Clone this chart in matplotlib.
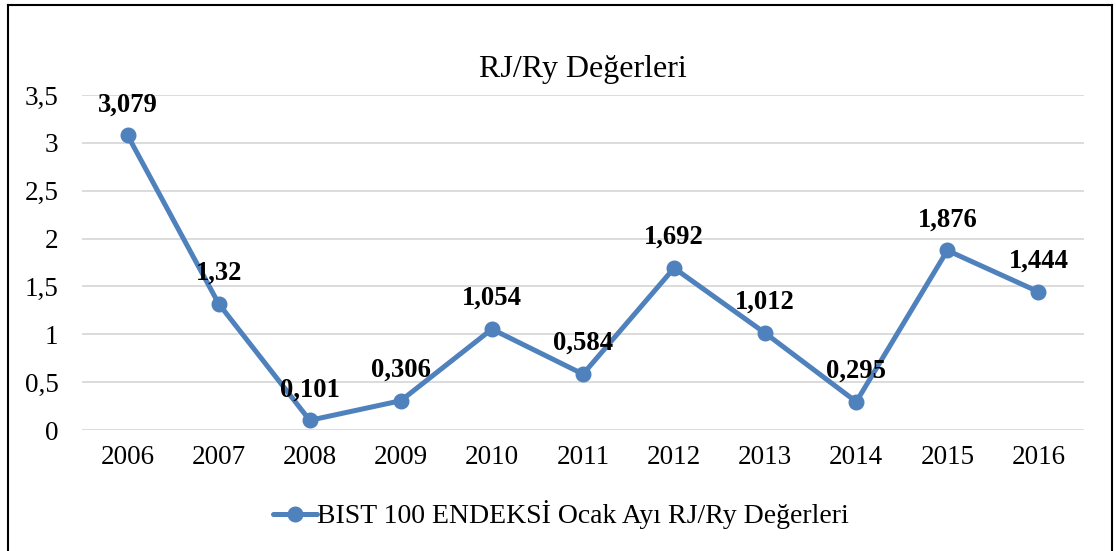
import matplotlib
matplotlib.use("Agg")
import matplotlib.pyplot as plt
from matplotlib.lines import Line2D

years = ["2006", "2007", "2008", "2009", "2010", "2011", "2012", "2013", "2014", "2015", "2016"]
values = [3.079, 1.32, 0.101, 0.306, 1.054, 0.584, 1.692, 1.012, 0.295, 1.876, 1.444]
labels = ["3,079", "1,32", "0,101", "0,306", "1,054", "0,584", "1,692", "1,012", "0,295", "1,876", "1,444"]
yticks = [0, 0.5, 1, 1.5, 2, 2.5, 3, 3.5]
ytick_labels = ["0", "0,5", "1", "1,5", "2", "2,5", "3", "3,5"]
title = "RJ/Ry Değerleri"
series_name = "BIST 100 ENDEKSİ Ocak Ayı RJ/Ry Değerleri"

plt.rcParams['font.family'] = ['Liberation Serif', 'DejaVu Serif']
W, H = 1116, 551
fig = plt.figure(figsize=(W / 100, H / 100), dpi=100)
ax = fig.add_axes([82 / W, 1 - 430 / H, (1084 - 82) / W, (430 - 95) / H])

color = "#4F81BD"
x = list(range(len(years)))
line, = ax.plot(x, values, color=color, lw=3.6, marker="o", markersize=10.5,
                label=series_name, solid_capstyle="round", zorder=3)
for xi, v, lab in zip(x, values, labels):
    ax.annotate(lab, (xi, v), xytext=(0, 13), textcoords="offset points",
                ha="center", va="bottom", fontsize=19.2, fontweight="bold", zorder=4)

ax.set_xlim(-0.5, len(years) - 0.5)
ax.set_ylim(0, 3.5)
ax.set_yticks(yticks)
ax.set_yticklabels(ytick_labels, fontsize=19.5)
ax.set_xticks(x)
ax.set_xticklabels(years, fontsize=19.5)
ax.tick_params(length=0, pad=11)
ax.tick_params(axis="y", pad=17)
ax.grid(axis="y", color="#D9D9D9", lw=1.3)
ax.set_axisbelow(True)
for s in ax.spines.values():
    s.set_visible(False)

fig.text(583 / W, 1 - 70 / H, title, ha="center", va="center", fontsize=23)

fig.legend(handles=[line], loc="center", bbox_to_anchor=(561 / W, 1 - 515 / H),
           frameon=False, fontsize=20, handlelength=1.6, handletextpad=0.0,
           borderpad=0)

# outer border (bottom edge lies outside the image)
for xs, ys in [((8 / W, 8 / W), (1 - 5 / H, -0.05)),
               ((1112 / W, 1112 / W), (1 - 5 / H, -0.05)),
               ((8 / W, 1112 / W), (1 - 5 / H, 1 - 5 / H))]:
    fig.add_artist(Line2D(xs, ys, color="black", lw=1.5, transform=fig.transFigure))

fig.savefig("out.png", dpi=100)
